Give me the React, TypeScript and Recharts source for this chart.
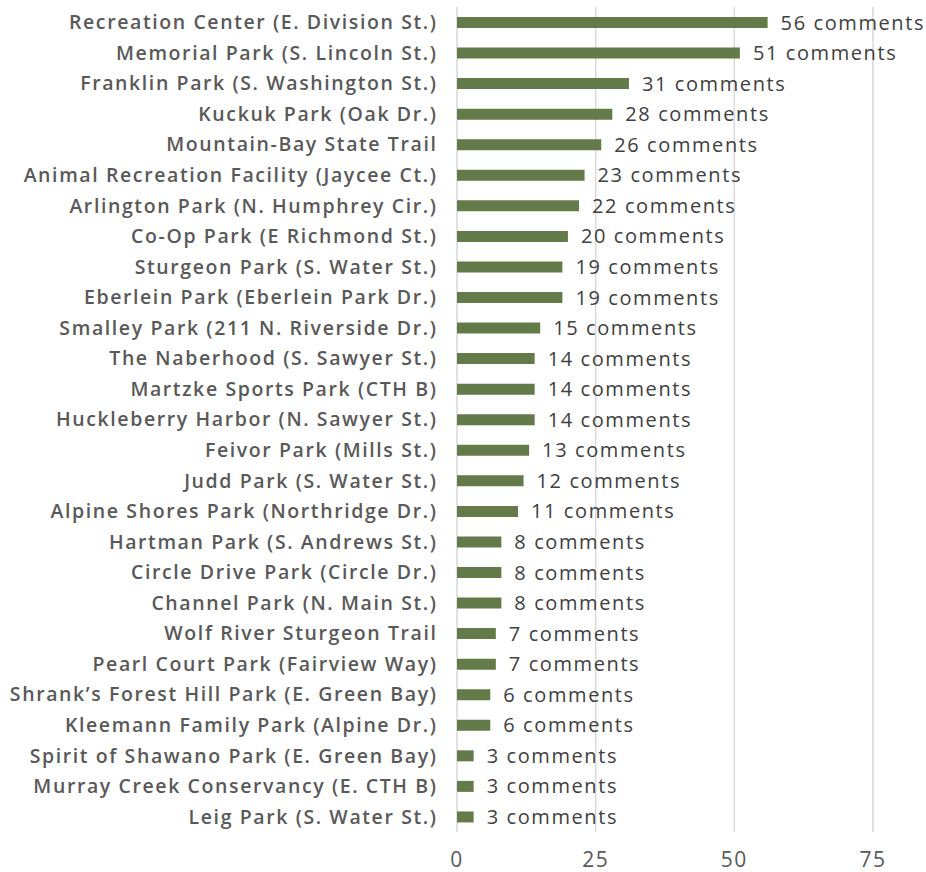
import React from "react";
import { BarChart, Bar, XAxis, YAxis, CartesianGrid, LabelList } from "recharts";

const parks = [
  "Recreation Center (E. Division St.)",
  "Memorial Park (S. Lincoln St.)",
  "Franklin Park (S. Washington St.)",
  "Kuckuk Park (Oak Dr.)",
  "Mountain-Bay State Trail",
  "Animal Recreation Facility (Jaycee Ct.)",
  "Arlington Park (N. Humphrey Cir.)",
  "Co-Op Park (E Richmond St.)",
  "Sturgeon Park (S. Water St.)",
  "Eberlein Park (Eberlein Park Dr.)",
  "Smalley Park (211 N. Riverside Dr.)",
  "The Naberhood (S. Sawyer St.)",
  "Martzke Sports Park (CTH B)",
  "Huckleberry Harbor (N. Sawyer St.)",
  "Feivor Park (Mills St.)",
  "Judd Park (S. Water St.)",
  "Alpine Shores Park (Northridge Dr.)",
  "Hartman Park (S. Andrews St.)",
  "Circle Drive Park (Circle Dr.)",
  "Channel Park (N. Main St.)",
  "Wolf River Sturgeon Trail",
  "Pearl Court Park (Fairview Way)",
  "Shrank\u2019s Forest Hill Park (E. Green Bay)",
  "Kleemann Family Park (Alpine Dr.)",
  "Spirit of Shawano Park (E. Green Bay)",
  "Murray Creek Conservancy (E. CTH B)",
  "Leig Park (S. Water St.)",
];

const comments = [56, 51, 31, 28, 26, 23, 22, 20, 19, 19, 15, 14, 14, 14, 13, 12, 11, 8, 8, 8, 7, 7, 6, 6, 3, 3, 3];

const xTicks = [0, 25, 50, 75];

const data = parks.map((name, i) => ({ name, value: comments[i] }));

const FONT = "'Open Sans', sans-serif";

export default function App() {
  return (
    <div style={{ position: "absolute", left: 0, top: 0, width: 926, height: 872, background: "#fff" }}>
      <BarChart
        width={926}
        height={872}
        data={data}
        layout="vertical"
        margin={{ top: 7, right: 53, bottom: 0, left: 0 }}
        barSize={11}
      >
        <CartesianGrid horizontal={false} stroke="#d9d9d9" strokeWidth={1.5} />
        <XAxis
          type="number"
          domain={[0, 75]}
          ticks={xTicks}
          axisLine={false}
          tickLine={false}
          tickSize={0}
          tickMargin={20}
          height={40}
          tick={{ fill: "#595959", fontSize: 21, fontFamily: FONT, letterSpacing: 1.5 }}
        />
        <YAxis
          type="category"
          dataKey="name"
          width={457}
          axisLine={false}
          tickLine={false}
          tickSize={0}
          tickMargin={19.5}
          interval={0}
          tick={{ fill: "#595959", fontSize: 19.5, fontWeight: 600, fontFamily: FONT, letterSpacing: 1.6 }}
        />
        <Bar dataKey="value" fill="#637b48" isAnimationActive={false}>
          <LabelList
            dataKey="value"
            position="right"
            offset={13}
            formatter={(v: number) => `${v} comments`}
            style={{ fill: "#404040", fontSize: 20, fontFamily: FONT, letterSpacing: 1.6 }}
          />
        </Bar>
      </BarChart>
    </div>
  );
}
